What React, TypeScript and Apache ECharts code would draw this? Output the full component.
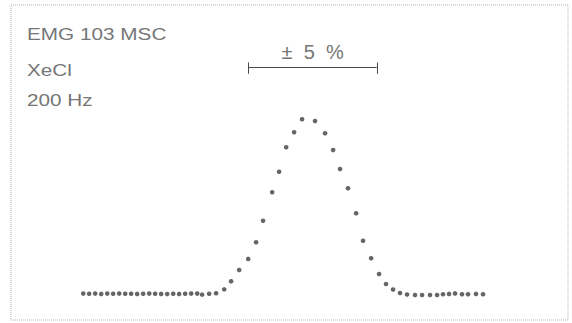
import React, { useEffect, useRef } from "react";
import * as echarts from "echarts";

// Relative wavelength offset from line centre, in percent
const offsetPct: number[] = [
  -17.87, -17.41, -16.94, -16.47, -16.0, -15.54, -15.07, -14.6, -14.14, -13.67,
  -13.2, -12.73, -12.27, -11.8, -11.33, -10.86, -10.4, -9.93, -9.46, -8.99,
  -8.61, -8.06, -7.52, -6.89, -6.35, -5.72, -5.02, -4.4, -3.86, -3.15, -2.61,
  -2.06, -1.44, -0.82, 0.19, 0.97, 1.6, 2.14, 2.76, 3.39, 3.93, 4.56, 5.18,
  5.72, 6.27, 6.81, 7.36, 7.98, 8.53, 9.15, 9.7, 10.16, 10.63, 11.1, 11.64,
  12.11, 12.73, 13.28,
];

// Normalised intensity at each offset
const intensity: number[] = [
  0.001, 0.0, 0.001, -0.001, 0.001, 0.0, 0.001, 0.0, 0.0, -0.001,
  0.0, 0.001, 0.0, -0.001, -0.002, 0.0, -0.001, 0.0, 0.001, 0.001,
  -0.005, 0.0, 0.003, 0.025, 0.071, 0.136, 0.199, 0.294, 0.417, 0.58, 0.697,
  0.837, 0.923, 0.997, 0.987, 0.917, 0.821, 0.713, 0.603, 0.46, 0.303, 0.203,
  0.113, 0.056, 0.024, 0.004, -0.004, -0.007, -0.007, -0.007, -0.007, -0.003,
  -0.001, 0.002, -0.003, -0.003, -0.001, -0.003,
];

// Header lines
const headerLines: string[] = ["EMG 103 MSC", "XeCl", "200 Hz"];

// Scale bar half-width (percent) and its label
const scaleHalfWidth = 5;
const scaleLabel = "±  5  %";
const scaleLevel = 1.292;

export default function App() {
  const ref = useRef<HTMLDivElement>(null);

  useEffect(() => {
    if (!ref.current) return;
    document.body.style.margin = "0";
    const chart = echarts.init(ref.current, null, { renderer: "svg" });

    const points = offsetPct.map((x, i) => [x, intensity[i]]);
    const textColor = "#767676";
    const fontFamily = '"Liberation Sans", Arial, sans-serif';
    const headerY = [34, 70, 100];

    chart.setOption({
      animation: false,
      backgroundColor: "#ffffff",
      grid: {
        left: 11,
        right: 4,
        top: 5,
        bottom: 3,
        show: true,
        borderColor: "#b0b0b0",
        borderWidth: 1,
        borderType: [1, 1],
        backgroundColor: "transparent",
      },
      xAxis: {
        type: "value",
        min: -23.5,
        max: 19.9,
        show: false,
      },
      yAxis: {
        type: "value",
        min: -0.15,
        max: 1.65,
        show: false,
      },
      graphic: headerLines.map((t, i) => ({
        type: "text",
        x: 27,
        y: headerY[i],
        scaleX: 1.22,
        silent: true,
        style: {
          text: t,
          font: `17px ${fontFamily}`,
          fill: textColor,
          verticalAlign: "middle",
          align: "left",
        },
      })),
      series: [
        {
          type: "scatter",
          data: points,
          symbol: "circle",
          symbolSize: 4.6,
          itemStyle: { color: "#3e3e3e" },
          silent: true,
          markLine: {
            silent: true,
            symbol: ["none", "none"],
            lineStyle: { color: "#4a4a4a", width: 1, type: "solid" },
            label: { show: false },
            data: [
              [
                {
                  coord: [-scaleHalfWidth, scaleLevel],
                  label: {
                    show: true,
                    formatter: scaleLabel,
                    position: "insideMiddleTop",
                    distance: 6,
                    color: textColor,
                    fontSize: 20,
                    fontFamily,
                  },
                },
                { coord: [scaleHalfWidth, scaleLevel] },
              ],
              [
                { coord: [-scaleHalfWidth, scaleLevel - 0.035] },
                { coord: [-scaleHalfWidth, scaleLevel + 0.03] },
              ],
              [
                { coord: [scaleHalfWidth, scaleLevel - 0.035] },
                { coord: [scaleHalfWidth, scaleLevel + 0.03] },
              ],
            ],
          },
        },
      ],
    });

    return () => chart.dispose();
  }, []);

  return <div ref={ref} style={{ width: 572, height: 323 }} />;
}
